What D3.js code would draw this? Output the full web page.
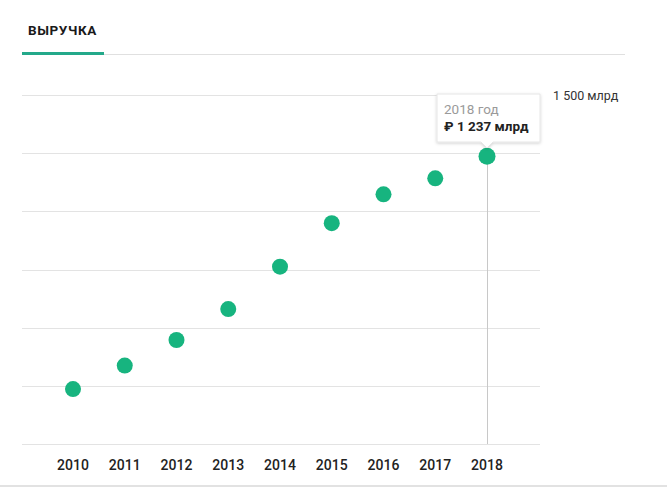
<!DOCTYPE html>
<html>
<head>
<meta charset="utf-8">
<title>Выручка</title>
<style>
  body { margin: 0; background: #fff; }
  svg { display: block; font-family: Roboto, "Open Sans", sans-serif; }
  .grid line { stroke: #e3e3e3; stroke-width: 1; }
  .year { font-size: 14px; font-weight: 500; fill: #222; text-anchor: middle; }
</style>
<script src="https://cdn.jsdelivr.net/npm/d3@7"></script>
</head>
<body>
<svg width="667" height="488"></svg>
<script>
var years = [2010, 2011, 2012, 2013, 2014, 2015, 2016, 2017, 2018];
var revenue = [236, 337, 447, 580, 762, 949, 1073, 1142, 1237];
var yTicks = [0, 250, 500, 750, 1000, 1250, 1500];
var tabTitle = "ВЫРУЧКА";
var maxLabel = "1 500 млрд";
var tipYear = "2018 год";
var tipValue = "₽ 1 237 млрд";

var svg = d3.select("svg"),
    width = +svg.attr("width"),
    height = +svg.attr("height");

// tab header
svg.append("line")
    .attr("x1", 22).attr("x2", 625).attr("y1", 54.5).attr("y2", 54.5)
    .style("stroke", "#e0e0e0");
svg.append("rect")
    .attr("x", 22).attr("y", 52).attr("width", 82).attr("height", 3)
    .style("fill", "#23a98a");
svg.append("text")
    .attr("x", 28).attr("y", 34.5)
    .style("font-size", "13.5px").style("font-weight", "bold")
    .style("letter-spacing", "0.6px").style("fill", "#1a1a1a")
    .text(tabTitle);

// bottom separator
svg.append("line")
    .attr("x1", 0).attr("x2", width).attr("y1", 486).attr("y2", 486)
    .style("stroke", "#e2e2e2").style("stroke-width", 2);

var x = d3.scalePoint()
    .domain(years)
    .range([73, 487]);

var y = d3.scaleLinear()
    .domain([0, 1500])
    .range([444, 95]);

svg.append("g")
    .attr("class", "grid")
  .selectAll("line")
    .data(yTicks)
  .enter().append("line")
    .attr("x1", 22).attr("x2", 540)
    .attr("y1", function(d) { return Math.round(y(d)) + 0.5; })
    .attr("y2", function(d) { return Math.round(y(d)) + 0.5; });

svg.append("text")
    .attr("x", 553).attr("y", y(1500) + 5)
    .style("font-size", "12.5px").style("fill", "#333")
    .text(maxLabel);

svg.append("g")
  .selectAll("text")
    .data(years)
  .enter().append("text")
    .attr("class", "year")
    .attr("x", function(d) { return x(d); })
    .attr("y", 470)
    .text(function(d) { return d; });

var last = years.length - 1;

// hover line to the last point
svg.append("line")
    .attr("x1", x(years[last]) + 0.5).attr("x2", x(years[last]) + 0.5)
    .attr("y1", y(revenue[last])).attr("y2", 444)
    .style("stroke", "#c8c8c8");

svg.append("g")
  .selectAll("circle")
    .data(years)
  .enter().append("circle")
    .attr("cx", function(d) { return x(d); })
    .attr("cy", function(d, i) { return y(revenue[i]); })
    .attr("r", function(d, i) { return i == last ? 8.5 : 8; })
    .style("fill", "#17b47f");

// tooltip
var defs = svg.append("defs");
var f = defs.append("filter").attr("id", "sh")
    .attr("x", "-20%").attr("y", "-20%").attr("width", "140%").attr("height", "150%");
f.append("feDropShadow")
    .attr("dx", 0).attr("dy", 1).attr("stdDeviation", 1.5)
    .attr("flood-color", "#000").attr("flood-opacity", 0.18);

var tx = x(years[last]), ty = y(revenue[last]);
var bx = 437, by = 94, bw = 103, bh = 48;
var tip = svg.append("g");
tip.append("path")
    .attr("d", "M" + bx + "," + by + "h" + bw + "v" + bh +
        "H" + (tx + 6) + "l-6,6l-6,-6H" + bx + "Z")
    .style("fill", "#fff").style("stroke", "#e6e6e6")
    .attr("filter", "url(#sh)");
tip.append("text")
    .attr("x", bx + 7).attr("y", by + 20)
    .style("font-size", "13.5px").style("fill", "#9a9a9a")
    .text(tipYear);
tip.append("text")
    .attr("x", bx + 7).attr("y", by + 37)
    .style("font-size", "13.5px").style("font-weight", "bold").style("fill", "#222")
    .text(tipValue);
</script>
</body>
</html>
